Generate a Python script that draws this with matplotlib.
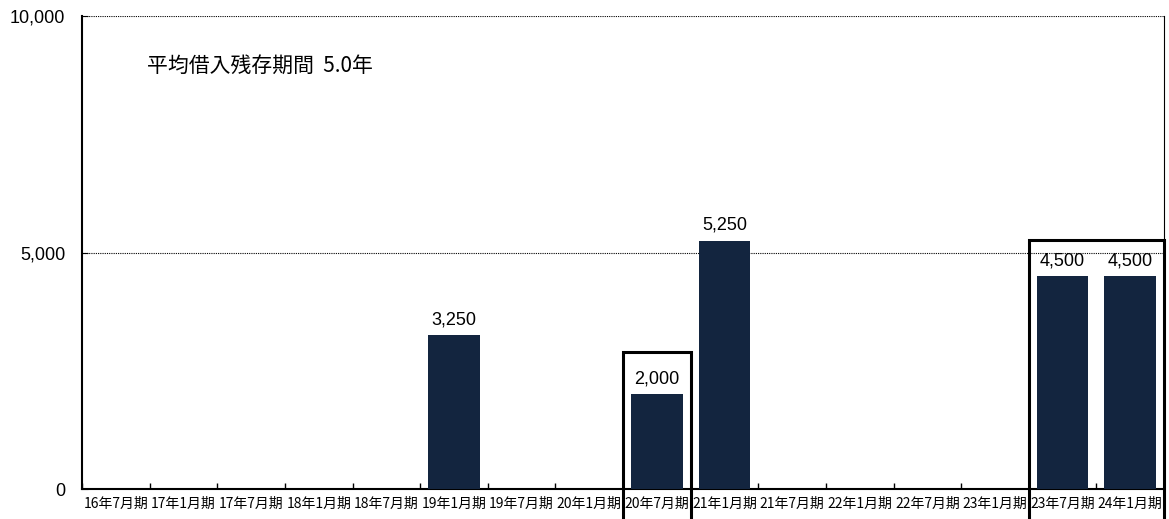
import matplotlib
matplotlib.use('Agg')
import matplotlib.pyplot as plt
from matplotlib.patches import Rectangle
import numpy as np

plt.rcParams['font.family'] = ['Noto Sans CJK JP', 'DejaVu Sans']

# data
periods = ['16年7月期', '17年1月期', '17年7月期', '18年1月期', '18年7月期',
           '19年1月期', '19年7月期', '20年1月期', '20年7月期', '21年1月期',
           '21年7月期', '22年1月期', '22年7月期', '23年1月期', '23年7月期',
           '24年1月期']
amounts = [0, 0, 0, 0, 0, 3250, 0, 0, 2000, 5250, 0, 0, 0, 0, 4500, 4500]
y_ticks = [0, 5000, 10000]
note = '平均借入残存期間  5.0年'

bar_color = '#13253f'
latin = ['Liberation Sans', 'DejaVu Sans']

fig = plt.figure(figsize=(11.69, 5.19), dpi=100)
ax = fig.add_axes([82 / 1169, 1 - 489 / 519, (1164 - 82) / 1169, (489 - 16) / 519])

x = np.arange(len(periods))
ax.bar(x, amounts, width=0.76, color=bar_color, zorder=3)

for xi, v in zip(x, amounts):
    if v > 0:
        ax.annotate(f'{v:,}', (xi, v), xytext=(0, 5), textcoords='offset points',
                    ha='center', va='bottom', fontsize=13, family=latin)

ax.set_xlim(-0.5, len(periods) - 0.5)
ax.set_ylim(0, 10000)

# axes styling
ax.spines['top'].set_visible(False)
ax.spines['left'].set_linewidth(1.5)
ax.spines['bottom'].set_linewidth(1.5)
ax.spines['right'].set_linewidth(0.8)

ax.set_yticks(y_ticks)
ax.set_yticklabels([f'{t:,}' for t in y_ticks], family=latin, fontsize=13)
ax.tick_params(axis='y', direction='in', length=4, pad=12)
for t in y_ticks[1:]:
    ax.axhline(t, color='black', lw=0.8, ls=(0, (1, 1)), zorder=1)

ax.set_xticks(x)
ax.set_xticklabels(periods, fontsize=10)
ax.tick_params(axis='x', which='major', length=0, pad=6)
ax.set_xticks(np.arange(len(periods) + 1) - 0.5, minor=True)
ax.tick_params(axis='x', which='minor', direction='in', length=4, width=1)

ax.text(0.06, 0.895, note, transform=ax.transAxes, fontsize=15, va='center', ha='left')

# highlight boxes
ax.add_patch(Rectangle((7.5, -1000), 1.0, 2900 + 1000, fill=False, ec='black',
                       lw=2.2, clip_on=False, zorder=5))
ax.add_patch(Rectangle((13.5, -1000), 2.0, 5270 + 1000, fill=False, ec='black',
                       lw=2.2, clip_on=False, zorder=5))

fig.savefig('out.png', dpi=100)
